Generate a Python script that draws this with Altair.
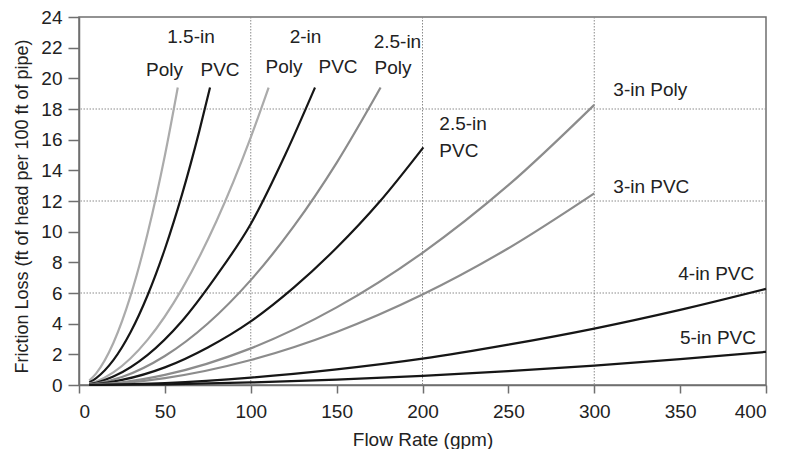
import altair as alt
import pandas as pd

# ---- data ----
series_names = ["1.5-in Poly", "1.5-in PVC", "2-in Poly", "2-in PVC", "2.5-in Poly",
                "2.5-in PVC", "3-in Poly", "3-in PVC", "4-in PVC", "5-in PVC"]
series_colors = ["#ababab", "#161616", "#ababab", "#161616", "#8c8c8c",
                 "#161616", "#8c8c8c", "#8c8c8c", "#161616", "#161616"]

q_15poly = [6, 10, 20, 30, 40, 50, 57.5]
h_15poly = [0.29, 0.76, 2.74, 5.81, 9.91, 14.97, 19.4]
q_15pvc = [6, 10, 20, 30, 40, 50, 60, 70, 76.3]
h_15pvc = [0.17, 0.45, 1.62, 3.44, 5.87, 8.87, 12.43, 16.54, 19.4]
q_2poly = [6, 10, 20, 40, 60, 80, 100, 110.4]
h_2poly = [0.09, 0.23, 0.82, 2.96, 6.27, 10.68, 16.15, 19.4]
q_2pvc = [6, 10, 20, 40, 60, 80, 100, 120, 137.4]
h_2pvc = [0.06, 0.15, 0.55, 1.97, 4.18, 7.12, 10.5, 15.0, 19.4]
q_25poly = [6, 10, 25, 50, 75, 100, 125, 150, 175.6]
h_25poly = [0.04, 0.10, 0.52, 1.89, 4.01, 6.84, 10.34, 14.49, 19.4]
q_25pvc = [6, 10, 25, 50, 75, 100, 125, 150, 175, 200.5]
h_25pvc = [0.03, 0.06, 0.33, 1.15, 2.45, 4.15, 6.35, 8.95, 11.95, 15.5]
q_3poly = [6, 25, 50, 100, 150, 200, 250, 300]
h_3poly = [0.02, 0.18, 0.66, 2.39, 5.06, 8.62, 13.03, 18.27]
q_3pvc = [6, 25, 50, 100, 150, 200, 250, 300]
h_3pvc = [0.01, 0.125, 0.45, 1.63, 3.46, 5.9, 8.92, 12.5]
q_4pvc = [6, 50, 100, 150, 200, 250, 300, 350, 400]
h_4pvc = [0.003, 0.13, 0.48, 1.02, 1.72, 2.63, 3.68, 4.9, 6.27]
q_5pvc = [6, 50, 100, 150, 200, 250, 300, 350, 400]
h_5pvc = [0.001, 0.046, 0.166, 0.351, 0.6, 0.904, 1.26, 1.69, 2.16]

label_text = ["1.5-in", "Poly", "PVC", "2-in", "Poly", "PVC", "2.5-in", "Poly",
              "2.5-in", "PVC", "3-in Poly", "3-in PVC", "4-in PVC", "5-in PVC"]
label_x = [65.2, 49.8, 82.1, 131.9, 119.4, 150.8, 185.4, 182.8,
           209.8, 209.8, 311.1, 311.1, 348.9, 349.9]
label_y = [22.7, 20.56, 20.56, 22.7, 20.76, 20.76, 22.38, 20.69,
           17.04, 15.24, 19.24, 12.91, 7.24, 3.09]
label_align = ["center"] * 8 + ["left"] * 6

x_ticks = [0, 50, 100, 150, 200, 250, 300, 350, 400]
y_ticks = [0, 2, 4, 6, 8, 10, 12, 14, 16, 18, 20, 22, 24]
x_grid = [100, 200, 300]
y_grid = [6, 12, 18]

# ---- build tables ----
qs = [q_15poly, q_15pvc, q_2poly, q_2pvc, q_25poly, q_25pvc, q_3poly, q_3pvc, q_4pvc, q_5pvc]
hs = [h_15poly, h_15pvc, h_2poly, h_2pvc, h_25poly, h_25pvc, h_3poly, h_3pvc, h_4pvc, h_5pvc]
rows = []
for name, q, h in zip(series_names, qs, hs):
    for a, b in zip(q, h):
        rows.append({"series": name, "q": a, "h": b})
df = pd.DataFrame(rows)
labels = pd.DataFrame({"text": label_text, "q": label_x, "h": label_y, "align": label_align})
vgrid = pd.DataFrame({"q": x_grid})
hgrid = pd.DataFrame({"h": y_grid})

FONT = "Liberation Sans"
FS = 19
xscale = alt.Scale(domain=[0, 400], nice=False, zero=False)
yscale = alt.Scale(domain=[0, 24], nice=False)

x_axis = alt.Axis(title="Flow Rate (gpm)", values=x_ticks, grid=False, tickSize=8,
                  labelPadding=9, labelOverlap=False, titleY=54, titleBaseline="middle")
y_axis = alt.Axis(title="Friction Loss (ft of head per 100 ft of pipe)", values=y_ticks,
                  grid=False, tickSize=11, labelPadding=6, labelOverlap=False,
                  titleFontSize=18, titleX=-57, titleY=189,
                  titleBaseline="middle", titleAlign="center", titleAngle=-90)
X = alt.X("q:Q", scale=xscale, axis=x_axis)
Y = alt.Y("h:Q", scale=yscale, axis=y_axis)

lines = alt.Chart(df).mark_line(strokeWidth=2.2, interpolate="monotone").encode(
    x=X, y=Y,
    color=alt.Color("series:N", scale=alt.Scale(domain=series_names, range=series_colors), legend=None),
    detail="series:N",
)

grid_v = alt.Chart(vgrid).mark_rule(color="#8a8a8a", strokeWidth=1, strokeDash=[1.5, 1.5]).encode(x=X)
grid_h = alt.Chart(hgrid).mark_rule(color="#8a8a8a", strokeWidth=1, strokeDash=[1.5, 1.5]).encode(y=Y)

text_c = alt.Chart(labels[labels["align"] == "center"]).mark_text(
    font=FONT, fontSize=FS, color="#222222", align="center", baseline="middle").encode(
    x=X, y=Y, text="text:N")
text_l = alt.Chart(labels[labels["align"] == "left"]).mark_text(
    font=FONT, fontSize=FS, color="#222222", align="left", baseline="middle").encode(
    x=X, y=Y, text="text:N")

chart = alt.layer(grid_v, grid_h, lines, text_c, text_l).properties(
    width=687, height=368,
    autosize=alt.AutoSizeParams(type="none"),
    padding={"left": 71, "top": 9, "right": 20, "bottom": 64},
    background="white",
).configure_view(stroke="#6f6f6f", strokeWidth=1.5).configure_axis(
    labelFont=FONT, titleFont=FONT, labelFontSize=FS, titleFontSize=FS,
    labelColor="#222222", titleColor="#222222", titleFontWeight="normal",
    domainColor="#6f6f6f", tickColor="#6f6f6f", domainWidth=1.5, tickWidth=1.5,
    labelOverlap=False,
)

chart.save("out.html", embed_options={"renderer": "svg", "actions": False})
